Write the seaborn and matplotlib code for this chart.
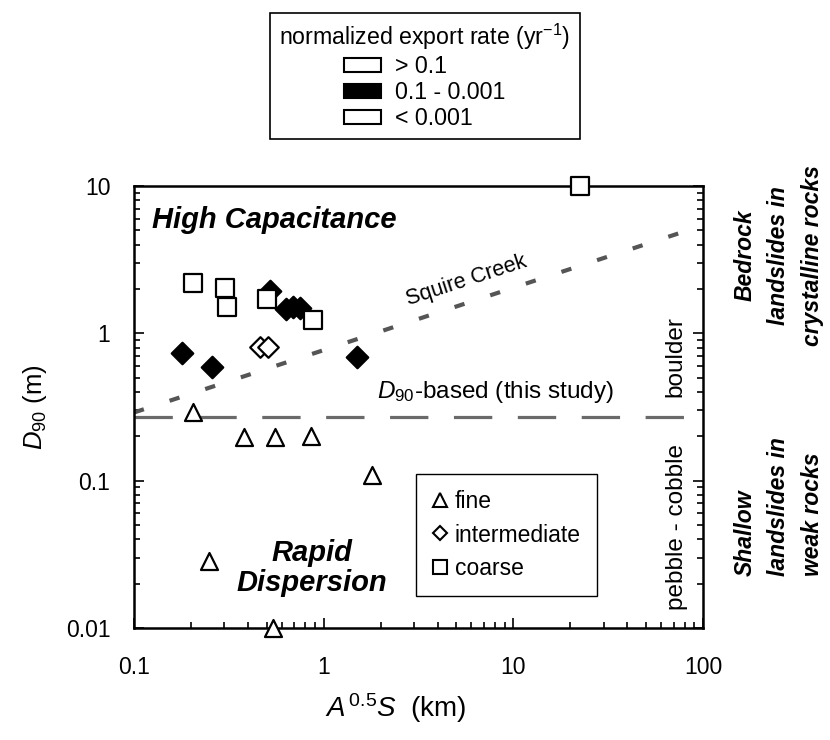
import matplotlib
matplotlib.use('Agg')
import matplotlib.pyplot as plt
import seaborn as sns
from matplotlib.lines import Line2D
from matplotlib.patches import Patch
from matplotlib.ticker import NullFormatter

# values
fine_x = [0.206, 0.38, 0.553, 0.857, 1.79, 0.249, 0.54]
fine_y = [0.294, 0.197, 0.197, 0.20, 0.109, 0.0286, 0.0100]

mid_fill_x = [0.18, 0.257, 1.50, 0.52, 0.632, 0.687, 0.75]
mid_fill_y = [0.74, 0.59, 0.69, 1.94, 1.46, 1.50, 1.48]
mid_open_x = [0.46, 0.51]
mid_open_y = [0.81, 0.81]

coarse_x = [0.204, 0.302, 0.31, 0.505, 0.875, 22.4]
coarse_y = [2.18, 2.02, 1.52, 1.72, 1.24, 10.0]

squire_x = [0.1, 100]
squire_y = [0.29, 5.4]
d90_x = [0.1, 100]
d90_y = [0.27, 0.27]

x_ticks = [0.1, 1, 10, 100]
x_tick_labels = ['0.1', '1', '10', '100']
y_ticks = [0.01, 0.1, 1, 10]
y_tick_labels = ['0.01', '0.1', '1', '10']

rate_labels = ['> 0.1', '0.1 - 0.001', '< 0.001']
grain_labels = ['fine', 'intermediate', 'coarse']

sns.set_theme(style='ticks')
plt.rcParams['font.family'] = ['Liberation Sans', 'DejaVu Sans']
plt.rcParams['mathtext.fontset'] = 'custom'
plt.rcParams['mathtext.rm'] = 'Liberation Sans'
plt.rcParams['mathtext.it'] = 'Liberation Sans:italic'
plt.rcParams['mathtext.bf'] = 'Liberation Sans:bold'
for key in ['text.color', 'axes.labelcolor', 'xtick.color', 'ytick.color', 'axes.edgecolor']:
    plt.rcParams[key] = 'black'

fig = plt.figure(figsize=(8.3, 7.4), dpi=100)
ax = fig.add_axes([0.1614, 0.1514, 0.6855, 0.5973])

# reference lines
sns.lineplot(x=d90_x, y=d90_y, ax=ax, color='#6a6a6a', lw=2.3,
             dashes=False).lines[-1].set_dashes((12, 8))
sns.lineplot(x=squire_x, y=squire_y, ax=ax, color='#555555', lw=3.0,
             dashes=False).lines[-1].set_dashes((2.5, 6.5))

# points
pt = dict(edgecolor='black', linewidth=1.6, clip_on=False, zorder=4, ax=ax, legend=False)
sns.scatterplot(x=mid_fill_x, y=mid_fill_y, marker='D', s=120, color='black', **pt)
sns.scatterplot(x=mid_open_x, y=mid_open_y, marker='D', s=110, color='white', **pt)
sns.scatterplot(x=coarse_x, y=coarse_y, marker='s', s=185, color='white', **pt)
sns.scatterplot(x=fine_x, y=fine_y, marker='^', s=150, color='white', **pt)

ax.set(xscale='log', yscale='log', xlim=(0.1, 100), ylim=(0.01, 10))
ax.set_xticks(x_ticks)
ax.set_xticklabels(x_tick_labels)
ax.set_yticks(y_ticks)
ax.set_yticklabels(y_tick_labels)
ax.xaxis.set_minor_formatter(NullFormatter())
ax.yaxis.set_minor_formatter(NullFormatter())
ax.tick_params(which='both', direction='in', top=False, right=True,
               width=1.2, color='black', labelcolor='black', labelsize=16.5)
ax.tick_params(which='major', length=7)
ax.tick_params(which='minor', length=4)
ax.tick_params(axis='x', pad=20)
ax.tick_params(axis='y', pad=17)
for sp in ax.spines.values():
    sp.set_linewidth(1.8)
    sp.set_color('black')

ax.set_xlabel('$A\\,^{\\mathrm{0.5}}S$  (km)', fontsize=20, labelpad=9, x=0.46)
ax.set_ylabel('$D_{\\mathrm{90}}$ (m)', fontsize=18.5, labelpad=12)

# annotations in the plot
ax.text(0.032, 0.923, 'High Capacitance', transform=ax.transAxes, fontsize=21,
        fontweight='bold', fontstyle='italic', ha='left', va='center')
ax.text(0.313, 0.136, 'Rapid\nDispersion', transform=ax.transAxes, fontsize=21,
        fontweight='bold', fontstyle='italic', ha='center', va='center',
        linespacing=1.1)
ax.text(0.585, 0.785, 'Squire Creek', transform=ax.transAxes, fontsize=15.5,
        rotation=18, ha='center', va='center', rotation_mode='anchor')
ax.text(0.636, 0.534, '$D_{\\mathrm{90}}$-based (this study)', transform=ax.transAxes,
        fontsize=17.5, ha='center', va='center')
ax.text(0.951, 0.613, 'boulder', transform=ax.transAxes, fontsize=17.5,
        rotation=90, ha='center', va='center')
ax.text(0.954, 0.229, 'pebble - cobble', transform=ax.transAxes, fontsize=17.5,
        rotation=90, ha='center', va='center')

# side labels
side_x = [745 / 830, 778 / 830, 812 / 830]
upper_lines = ['Bedrock', 'landslides in', 'crystalline rocks']
lower_lines = ['Shallow', 'landslides in', 'weak rocks']
for xs, t in zip(side_x, upper_lines):
    fig.text(xs, 0.655, t, rotation=90, ha='center', va='center', fontsize=16.5,
             fontweight='bold', fontstyle='italic')
for xs, t in zip(side_x, lower_lines):
    fig.text(xs, 0.222, t, rotation=90, ha='center', va='bottom', fontsize=16.5,
             fontweight='bold', fontstyle='italic')

# grain size legend
grain_handles = [
    Line2D([], [], marker='^', ls='none', mfc='white', mec='black', ms=10, mew=1.5),
    Line2D([], [], marker='D', ls='none', mfc='white', mec='black', ms=7.5, mew=1.5),
    Line2D([], [], marker='s', ls='none', mfc='white', mec='black', ms=9.5, mew=1.5),
]
leg1 = ax.legend(grain_handles, grain_labels, loc='upper left',
                 bbox_to_anchor=(0.4956, 0.348), fontsize=16.5, frameon=True,
                 fancybox=False, edgecolor='black', framealpha=1,
                 handlelength=0.7, handletextpad=0.3, labelspacing=0.45,
                 borderpad=0.7, borderaxespad=0)
leg1.get_frame().set_linewidth(1.0)

# export rate legend
rate_handles = [
    Patch(facecolor='white', edgecolor='black', lw=1.5),
    Patch(facecolor='black', edgecolor='black', lw=1.5),
    Patch(facecolor='white', edgecolor='black', lw=1.5),
]
leg2 = fig.legend(rate_handles, rate_labels, title='normalized export rate (yr$^{-1}$)',
                  loc='upper left', bbox_to_anchor=(270 / 830, 1 - 13 / 740),
                  fontsize=16.7, title_fontsize=16.7, frameon=True, fancybox=False,
                  edgecolor='black', framealpha=1, alignment='center',
                  handlelength=1.6, handleheight=0.55, handletextpad=0.6,
                  labelspacing=0.12, borderpad=0.4, borderaxespad=0)
leg2.get_frame().set_linewidth(1.2)

fig.savefig('out.png', dpi=100, facecolor='white')
